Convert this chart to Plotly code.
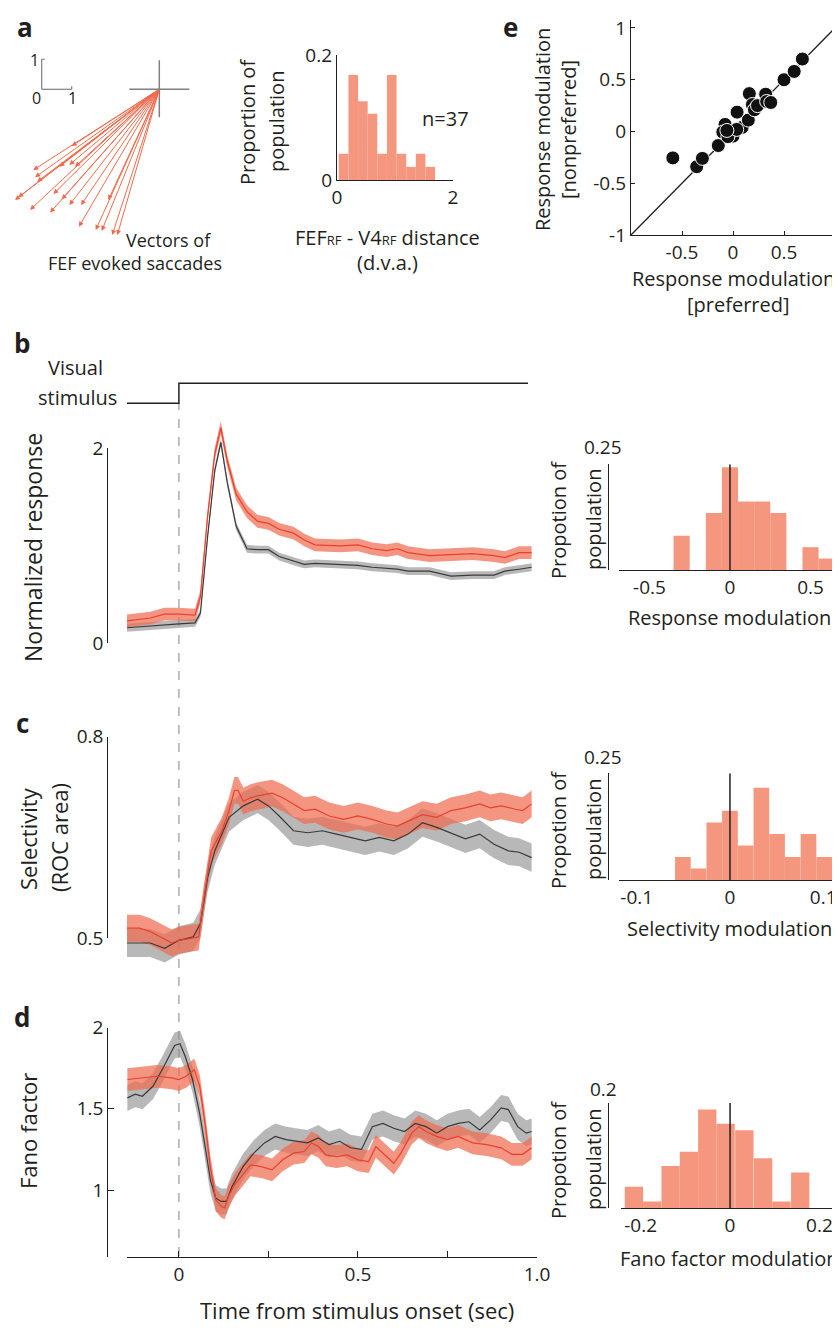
import plotly.graph_objects as go

# The page body has an 8px default margin, so the figure is laid out in
# reference-pixel coordinates shifted by OFF.
W, H = 840, 1332
OFF = 8
FW, FH = W - OFF, H - OFF

FONT = "Open Sans"
INK = "#231F20"
RED_LINE = "#E8412F"
RED_FILL = "rgba(240,108,82,0.72)"
GRAY_LINE = "#3A3A3A"
GRAY_FILL = "rgba(140,140,140,0.62)"
BAR = "#F5977F"
ARROW = "#F26A4B"

# ---------------- data ----------------
# panel a: saccade vectors (deg), tails at fixation
vec_dx = [-2.92, -4.20, -4.14, -4.07, -4.81, -4.70, -3.33, -3.00, -2.81, -4.31, -3.64,
          -3.53, -3.25, -3.00, -2.61, -2.68, -2.12, -1.92, -1.70, -1.57, -1.40]
vec_dy = [-1.89, -2.69, -2.93, -3.08, -3.69, -3.60, -2.58, -2.52, -2.58, -4.02, -4.11,
          -3.49, -3.67, -3.86, -3.86, -4.58, -4.69, -4.72, -3.69, -4.86, -4.86]

# panel a histogram
dist_centers = [0.113, 0.28, 0.446, 0.612, 0.778, 0.944, 1.11, 1.276, 1.442, 1.608]
dist_width = 0.166
dist_props = [0.042, 0.168, 0.126, 0.106, 0.042, 0.168, 0.042, 0.021, 0.042, 0.021]

# panel e scatter
mod_pref = [-0.59, -0.356, -0.30, -0.144, -0.078, -0.10, -0.03, 0.0, -0.05, 0.04, 0.09, 0.15,
            0.16, 0.19, 0.21, 0.24, 0.32, 0.33, 0.37, 0.50, 0.60, 0.68, 0.036, -0.06]
mod_nonpref = [-0.255, -0.34, -0.26, -0.136, 0.068, -0.006, -0.03, -0.045, -0.05, 0.187, 0.04, 0.11,
               0.366, 0.26, 0.21, 0.25, 0.36, 0.29, 0.28, 0.50, 0.58, 0.70, 0.02, 0.01]

# visual stimulus trace
stim_t = [-0.15, 0.0, 0.0, 0.975]
stim_v = [0, 0, 1, 1]

# panel b: normalized response
t_b = [-0.145, -0.08, -0.04, 0.0, 0.045, 0.06, 0.08, 0.10, 0.117, 0.135, 0.16, 0.19, 0.22, 0.25,
       0.28, 0.32, 0.35, 0.38, 0.45, 0.50, 0.54, 0.58, 0.61, 0.64, 0.70, 0.76, 0.82, 0.88, 0.91,
       0.95, 0.985]
resp_red = [0.23, 0.26, 0.30, 0.30, 0.29, 0.48, 1.30, 1.94, 2.21, 1.87, 1.53, 1.35, 1.25, 1.23,
            1.17, 1.13, 1.06, 1.01, 1.00, 1.01, 0.97, 0.95, 0.97, 0.93, 0.90, 0.91, 0.92, 0.90,
            0.88, 0.93, 0.93]
resp_gray = [0.16, 0.18, 0.19, 0.20, 0.21, 0.31, 1.09, 1.77, 2.06, 1.65, 1.20, 0.97, 0.96, 0.96,
             0.89, 0.84, 0.81, 0.82, 0.81, 0.80, 0.78, 0.77, 0.76, 0.74, 0.74, 0.69, 0.70, 0.70,
             0.74, 0.76, 0.78]
resp_red_sem = 0.065
resp_gray_sem = 0.04

# panel c: selectivity
t_c_red = [-0.145, -0.11, -0.08, -0.05, -0.02, 0.0, 0.03, 0.055, 0.07, 0.09, 0.12, 0.14, 0.155,
           0.165, 0.18, 0.20, 0.22, 0.26, 0.29, 0.32, 0.35, 0.38, 0.42, 0.46, 0.50, 0.54, 0.58,
           0.61, 0.65, 0.68, 0.72, 0.76, 0.80, 0.84, 0.87, 0.90, 0.94, 0.96, 0.985]
sel_red = [0.515, 0.515, 0.51, 0.502, 0.493, 0.497, 0.50, 0.502, 0.56, 0.63, 0.66, 0.69, 0.72,
           0.72, 0.704, 0.709, 0.712, 0.716, 0.709, 0.70, 0.69, 0.692, 0.682, 0.677, 0.682, 0.677,
           0.67, 0.667, 0.677, 0.684, 0.68, 0.69, 0.694, 0.70, 0.694, 0.697, 0.692, 0.69, 0.70]
t_c_gray = [-0.145, -0.11, -0.08, -0.04, 0.0, 0.04, 0.06, 0.08, 0.10, 0.14, 0.18, 0.22, 0.25,
            0.28, 0.32, 0.36, 0.40, 0.44, 0.48, 0.52, 0.56, 0.60, 0.64, 0.68, 0.72, 0.76, 0.80,
            0.84, 0.88, 0.92, 0.95, 0.985]
sel_gray = [0.493, 0.493, 0.493, 0.485, 0.497, 0.502, 0.522, 0.59, 0.63, 0.68, 0.697, 0.707,
            0.697, 0.682, 0.66, 0.657, 0.66, 0.655, 0.65, 0.645, 0.65, 0.645, 0.655, 0.672,
            0.665, 0.657, 0.648, 0.655, 0.64, 0.63, 0.628, 0.62]
sel_red_sem = 0.02
sel_gray_sem = 0.021

# panel d: Fano factor
t_d_red = [-0.144, -0.10, -0.06, -0.02, 0.0, 0.02, 0.043, 0.058, 0.073, 0.088, 0.103, 0.118,
           0.128, 0.138, 0.158, 0.18, 0.20, 0.23, 0.26, 0.29, 0.32, 0.35, 0.37, 0.39, 0.41, 0.44,
           0.47, 0.50, 0.53, 0.55, 0.57, 0.60, 0.62, 0.65, 0.67, 0.69, 0.72, 0.75, 0.78, 0.82,
           0.86, 0.90, 0.93, 0.96, 0.985]
fano_red = [1.68, 1.69, 1.70, 1.69, 1.68, 1.70, 1.74, 1.64, 1.41, 1.14, 0.94, 0.90, 0.89, 0.96,
            1.04, 1.10, 1.155, 1.144, 1.124, 1.186, 1.227, 1.237, 1.29, 1.268, 1.216, 1.206,
            1.216, 1.186, 1.175, 1.268, 1.227, 1.165, 1.227, 1.35, 1.39, 1.36, 1.33, 1.31, 1.33,
            1.29, 1.28, 1.26, 1.22, 1.22, 1.26]
t_d_gray = [-0.144, -0.122, -0.102, -0.072, -0.042, -0.012, 0.003, 0.018, 0.038, 0.058, 0.073,
            0.088, 0.103, 0.118, 0.133, 0.148, 0.179, 0.209, 0.239, 0.269, 0.299, 0.329, 0.359,
            0.389, 0.419, 0.449, 0.479, 0.51, 0.54, 0.57, 0.60, 0.63, 0.66, 0.69, 0.72, 0.75,
            0.78, 0.81, 0.84, 0.87, 0.90, 0.92, 0.946, 0.97, 0.985]
fano_gray = [1.567, 1.59, 1.577, 1.64, 1.76, 1.89, 1.90, 1.82, 1.68, 1.47, 1.27, 1.06, 0.95,
             0.93, 0.93, 1.02, 1.144, 1.227, 1.29, 1.33, 1.31, 1.30, 1.29, 1.32, 1.28, 1.30,
             1.26, 1.25, 1.39, 1.41, 1.38, 1.36, 1.41, 1.39, 1.35, 1.39, 1.41, 1.42, 1.37, 1.43,
             1.505, 1.495, 1.39, 1.35, 1.36]
fano_red_sem = 0.07
fano_gray_sem = 0.08

# right-column histograms
resp_mod_centers = [-0.3, -0.1, 0.0, 0.1, 0.2, 0.3, 0.5, 0.6]
resp_mod_width = 0.1
resp_mod_props = [0.081, 0.135, 0.243, 0.162, 0.162, 0.135, 0.054, 0.027]

sel_mod_centers = [-0.0505, -0.0337, -0.0168, 0.0, 0.0168, 0.0337, 0.0505, 0.0673, 0.0842, 0.101]
sel_mod_width = 0.0168
sel_mod_props = [0.054, 0.027, 0.135, 0.162, 0.081, 0.216, 0.108, 0.054, 0.108, 0.054]

fano_mod_centers = [-0.215, -0.174, -0.133, -0.092, -0.051, -0.010, 0.032, 0.074, 0.115, 0.157]
fano_mod_width = 0.041
fano_mod_props = [0.041, 0.013, 0.080, 0.107, 0.187, 0.160, 0.148, 0.095, 0.013, 0.068]


# ---------------- helpers (reference pixel -> paper) ----------------
def pxx(p):
    return (p - OFF) / FW


def pxy(p):
    return 1 - (p - OFF) / FH


def dom_x(a, b):
    return [max(pxx(a), 0.0), min(pxx(b), 1.0)]


def dom_y(top, bot):
    return [max(pxy(bot), 0.0), min(pxy(top), 1.0)]


TICKFONT = dict(family=FONT, size=19, color=INK)


def axis(**kw):
    base = dict(showgrid=False, zeroline=False, showline=True, linecolor=INK, linewidth=1.3,
                ticks="inside", ticklen=5, tickwidth=1.3, tickcolor=INK, tickfont=TICKFONT,
                fixedrange=True, automargin=False)
    base.update(kw)
    return base


HIDDEN = dict(visible=False, showgrid=False, zeroline=False, fixedrange=True, automargin=False)

fig = go.Figure()


def band(t, m, s, ya, fill):
    up = [v + s for v in m]
    lo = [v - s for v in m]
    fig.add_trace(go.Scatter(x=list(t) + list(t)[::-1], y=up + lo[::-1], fill="toself",
                             fillcolor=fill, line=dict(width=0), mode="lines",
                             xaxis="x4", yaxis=ya, hoverinfo="skip", showlegend=False))


def mean_line(t, m, ya, color):
    fig.add_trace(go.Scatter(x=t, y=m, mode="lines", line=dict(color=color, width=1.2),
                             xaxis="x4", yaxis=ya, showlegend=False))


# panel a vectors (subplot x/y)
fig.add_trace(go.Scatter(x=[0], y=[0], mode="markers", marker=dict(opacity=0),
                         xaxis="x", yaxis="y", showlegend=False, hoverinfo="skip"))
for dx, dy in zip(vec_dx, vec_dy):
    fig.add_annotation(x=dx, y=dy, ax=0, ay=0, xref="x", yref="y", axref="x", ayref="y",
                       showarrow=True, arrowhead=2, arrowsize=1.0, arrowwidth=1.0,
                       arrowcolor=ARROW, text="", standoff=0)

# panel a histogram
fig.add_trace(go.Bar(x=dist_centers, y=dist_props, width=dist_width,
                     marker=dict(color=BAR, line=dict(width=0)), xaxis="x2", yaxis="y2",
                     showlegend=False))

# panel e scatter
fig.add_trace(go.Scatter(x=mod_pref, y=mod_nonpref, mode="markers",
                         marker=dict(color="#111111", size=14, line=dict(color="white", width=1)),
                         xaxis="x3", yaxis="y3", showlegend=False))

# stimulus
fig.add_trace(go.Scatter(x=stim_t, y=stim_v, mode="lines", line=dict(color=INK, width=1.5),
                         xaxis="x4", yaxis="y4", showlegend=False))

# panel b
band(t_b, resp_gray, resp_gray_sem, "y5", GRAY_FILL)
band(t_b, resp_red, resp_red_sem, "y5", RED_FILL)
mean_line(t_b, resp_gray, "y5", GRAY_LINE)
mean_line(t_b, resp_red, "y5", RED_LINE)
fig.add_trace(go.Scatter(x=[None], y=[None], xaxis="x4", yaxis="y6", showlegend=False,
                         hoverinfo="skip"))

# panel c
band(t_c_gray, sel_gray, sel_gray_sem, "y8", GRAY_FILL)
band(t_c_red, sel_red, sel_red_sem, "y8", RED_FILL)
mean_line(t_c_gray, sel_gray, "y8", GRAY_LINE)
mean_line(t_c_red, sel_red, "y8", RED_LINE)
fig.add_trace(go.Scatter(x=[None], y=[None], xaxis="x4", yaxis="y9", showlegend=False,
                         hoverinfo="skip"))

# panel d
band(t_d_gray, fano_gray, fano_gray_sem, "y7", GRAY_FILL)
band(t_d_red, fano_red, fano_red_sem, "y7", RED_FILL)
mean_line(t_d_gray, fano_gray, "y7", GRAY_LINE)
mean_line(t_d_red, fano_red, "y7", RED_LINE)

# right histograms
for cx, pr, wd, xa, ya in [(resp_mod_centers, resp_mod_props, resp_mod_width, "x5", "y10"),
                           (sel_mod_centers, sel_mod_props, sel_mod_width, "x6", "y11"),
                           (fano_mod_centers, fano_mod_props, fano_mod_width, "x7", "y12")]:
    fig.add_trace(go.Bar(x=cx, y=pr, width=wd, marker=dict(color=BAR, line=dict(width=0)),
                         xaxis=xa, yaxis=ya, showlegend=False))

YPOS = pxx(107.3)
HPOS = pxx(608)

fig.update_layout(
    width=FW, height=FH, margin=dict(l=0, r=0, t=0, b=0, pad=0, autoexpand=False),
    showlegend=False,
    paper_bgcolor="white", plot_bgcolor="rgba(0,0,0,0)",
    font=dict(family=FONT, color=INK),
    # a: vectors (30 px per degree, fixation at pixel 159.3, 89.3)
    xaxis=dict(HIDDEN, domain=dom_x(8, 230), range=[(8 - 159.3) / 30, (230 - 159.3) / 30],
               anchor="y"),
    yaxis=dict(HIDDEN, domain=dom_y(40, 250), range=[(89.3 - 250) / 30, (89.3 - 40) / 30],
               anchor="x"),
    # a: histogram
    xaxis2=axis(domain=dom_x(337, 453), range=[0, 2], anchor="y2", tickvals=[0, 2], ticklen=4),
    yaxis2=axis(domain=dom_y(55, 180), range=[0, 0.2], anchor="x2", tickvals=[0, 0.2],
                ticktext=["0", "0.2"], ticklen=4),
    # e: scatter
    xaxis3=axis(domain=dom_x(631, 840), range=[-1, 1.049], anchor="y3",
                tickvals=[-0.5, 0, 0.5, 1], ticktext=["-0.5", "0", "0.5", "1"], ticklen=4),
    yaxis3=axis(domain=dom_y(20, 235), range=[-1, 1.077], anchor="x3",
                tickvals=[-1, -0.5, 0, 0.5, 1], ticktext=["-1", "-0.5", "0", "0.5", "1"],
                ticklen=4),
    # shared time axis (drawn under panel d)
    xaxis4=axis(domain=dom_x(127, 537), range=[-0.145, 1.0], anchor="y7",
                tickvals=[0, 0.25, 0.5, 0.75, 1.0], ticktext=["0", "", "0.5", "", "1.0"],
                ticklen=6),
    yaxis4=dict(HIDDEN, domain=dom_y(379.3, 407.3), range=[-0.2, 1.2], anchor="x4"),
    yaxis5=dict(HIDDEN, domain=dom_y(410, 660), range=[-0.171, 2.393], anchor="x4"),
    yaxis6=axis(domain=dom_y(448.3, 643.3), range=[0, 2], anchor="free", position=YPOS,
                tickvals=[0, 2], ticklen=6),
    yaxis7=axis(domain=dom_y(1027.5, 1256.7), range=[0.59, 2.0], anchor="free", position=YPOS,
                tickvals=[1, 1.5, 2], ticklen=6),
    yaxis8=dict(HIDDEN, domain=dom_y(740, 975), range=[0.4454, 0.795], anchor="x4"),
    yaxis9=axis(domain=dom_y(736.7, 938.3), range=[0.5, 0.8], anchor="free", position=YPOS,
                tickvals=[0.5, 0.8], ticktext=["0.5", "0.8"], ticklen=6),
    # right histograms
    xaxis5=axis(domain=dom_x(619, 840), range=[-0.689, 0.683], anchor="y10", ticks="",
                tickvals=[-0.5, 0, 0.5], ticktext=["-0.5", "0", "0.5"]),
    yaxis10=axis(domain=dom_y(464.3, 570), range=[0, 0.25], anchor="free", position=HPOS,
                 tickvals=[0, 0.25], showticklabels=False, ticklen=5),
    xaxis6=axis(domain=dom_x(619, 840), range=[-0.119, 0.118], anchor="y11", ticks="",
                tickvals=[-0.1, 0, 0.1], ticktext=["-0.1", "0", "0.1"]),
    yaxis11=axis(domain=dom_y(773.3, 880), range=[0, 0.25], anchor="free", position=HPOS,
                 tickvals=[0, 0.25], showticklabels=False, ticklen=5),
    xaxis7=axis(domain=dom_x(621, 840), range=[-0.244, 0.246], anchor="y12", ticks="",
                tickvals=[-0.2, 0, 0.2], ticktext=["-0.2", "0", "0.2"]),
    yaxis12=axis(domain=dom_y(1102.7, 1208.3), range=[0, 0.2], anchor="free", position=HPOS,
                 tickvals=[0, 0.2], showticklabels=False, ticklen=5),
)

# ---------------- shapes ----------------
shapes = []
CROSS = "#7F7F7F"
# fixation cross and scale bar (panel a)
shapes += [
    dict(type="line", xref="x", yref="y", x0=-1, x1=1, y0=0, y1=0, line=dict(color=CROSS, width=1.5)),
    dict(type="line", xref="x", yref="y", x0=0, x1=0, y0=-0.93, y1=0.97, line=dict(color=CROSS, width=1.5)),
    dict(type="line", xref="x", yref="y", x0=-3.92, x1=-3.92, y0=0, y1=1, line=dict(color=CROSS, width=1.2)),
    dict(type="line", xref="x", yref="y", x0=-3.92, x1=-2.92, y0=0, y1=0, line=dict(color=CROSS, width=1.2)),
    dict(type="line", xref="x", yref="y", x0=-3.92, x1=-3.82, y0=1, y1=1, line=dict(color=CROSS, width=1.2)),
    dict(type="line", xref="x", yref="y", x0=-2.92, x1=-2.92, y0=0, y1=0.1, line=dict(color=CROSS, width=1.2)),
]
# unity line (panel e)
shapes.append(dict(type="line", xref="x3", yref="y3", x0=-1, y0=-1, x1=1.049, y1=1.049,
                   line=dict(color=INK, width=1.3), layer="below"))
# stimulus onset dashed line
shapes.append(dict(type="line", xref="x4", yref="paper", x0=0, x1=0, y0=pxy(1256), y1=pxy(403),
                   line=dict(color="#9A9A9A", width=1.2, dash="dash"), layer="below"))
# zero lines in right histograms
for xa, ya, top in [("x5", "y10", 0.25), ("x6", "y11", 0.25), ("x7", "y12", 0.2)]:
    shapes.append(dict(type="line", xref=xa, yref=ya, x0=0, x1=0, y0=0, y1=top,
                       line=dict(color=INK, width=1.5)))
fig.update_layout(shapes=shapes)


# ---------------- text ----------------
def txt(s, x, y, size=20, angle=0):
    fig.add_annotation(text=s, x=pxx(x), y=pxy(y), xref="paper", yref="paper", showarrow=False,
                       textangle=angle, font=dict(family=FONT, size=size, color=INK),
                       xanchor="center", yanchor="middle")


for letter, lx, ly in [("a", 25, 27), ("b", 22, 343), ("c", 22, 723), ("d", 22, 1017), ("e", 510, 27)]:
    txt("<b>%s</b>" % letter, lx, ly, size=26)

# panel a
txt("1", 34, 60, 16)
txt("0", 36, 98, 16)
txt("1", 72, 98, 16)
txt("Vectors of", 168, 240, 18)
txt("FEF evoked saccades", 135, 263, 18)
txt("Proportion of", 247, 122, 20, -90)
txt("population", 276, 122, 20, -90)
txt("n=37", 445, 118, 20)
txt("FEF<span style='font-size:13px'>RF</span> - V4<span style='font-size:13px'>RF</span> distance",
    387, 237, 20)
txt("(d.v.a.)", 387, 262, 20)

# panel e
txt("Response modulation", 543, 130, 20, -90)
txt("[nonpreferred]", 569, 130, 20, -90)
txt("Response modulation", 733, 278, 20)
txt("[preferred]", 738, 305, 20)

# panels b-d
txt("Visual", 75, 368, 20)
txt("stimulus", 77, 397, 20)
txt("Normalized response", 33, 548, 23, -90)
txt("Selectivity", 28, 839, 22, -90)
txt("(ROC area)", 59, 838, 22, -90)
txt("Fano factor", 28, 1131, 22, -90)
txt("Time from stimulus onset (sec)", 357, 1310, 22)

# right histograms
for yc, lab, lab_y, top_lab, top_y in [(520, "Response modulation", 617, "0.25", 447),
                                       (830, "Selectivity modulation", 928, "0.25", 757),
                                       (1160, "Fano factor modulation", 1258, "0.2", 1089)]:
    txt("Propotion of", 558, yc, 20, -90)
    txt("population", 593, yc, 20, -90)
    txt(lab, 729, lab_y, 20)
    txt(top_lab, 603, top_y, 19)

fig.write_html("out.html")
